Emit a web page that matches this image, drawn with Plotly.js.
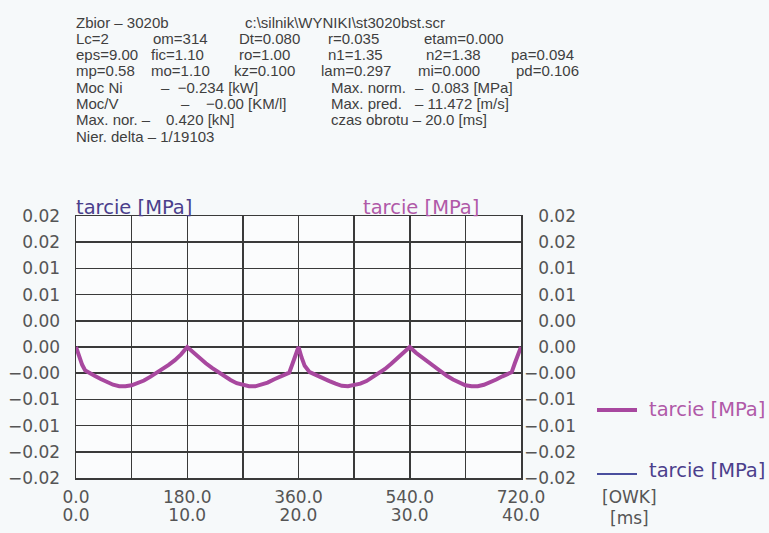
<!DOCTYPE html>
<html>
<head>
<meta charset="utf-8">
<script src="https://cdn.plot.ly/plotly-3.0.1.min.js"></script>
<style>
html,body{margin:0;padding:0;background:#f6f9fa;}
#chart{width:769px;height:533px;}
</style>
</head>
<body>
<div id="chart"></div>
<script>
// ---- data ----
const crankAngle = [0,5,10,15,20,30,40,50,60,70,80,90,100,110,120,130,140,150,160,170,180,
  190,200,210,220,230,240,250,260,270,280,290,300,310,320,330,340,345,350,355,360,
  365,370,378,390,400,410,420,430,440,450,460,470,480,490,500,510,520,530,540,
  550,560,570,580,590,600,610,620,630,640,650,660,670,680,690,700,705,710,715,720];
const tarcie = [0,-0.0018,-0.0034,-0.0045,-0.0049,-0.0055,-0.0061,-0.0067,-0.0072,-0.0075,-0.0075,-0.0073,-0.0069,-0.0064,-0.0057,-0.0050,-0.0042,-0.0034,-0.0025,-0.0014,0,
  -0.0011,-0.0022,-0.0031,-0.0040,-0.0048,-0.0056,-0.0063,-0.0069,-0.0073,-0.0075,-0.0075,-0.0072,-0.0068,-0.0062,-0.0056,-0.0051,-0.0049,-0.0033,-0.0016,0,
  -0.0020,-0.0036,-0.0048,-0.0055,-0.0060,-0.0065,-0.0070,-0.0074,-0.0075,-0.0073,-0.0070,-0.0065,-0.0058,-0.0050,-0.0042,-0.0032,-0.0021,-0.0011,0,
  -0.0011,-0.0020,-0.0030,-0.0039,-0.0047,-0.0055,-0.0062,-0.0068,-0.0073,-0.0075,-0.0075,-0.0072,-0.0068,-0.0062,-0.0056,-0.0051,-0.0048,-0.0031,-0.0015,0];

const xDegTickVals = [0,90,180,270,360,450,540,630,720];
const xDegTickText = ['0.0','','180.0','','360.0','','540.0','','720.0'];
const xMsTickVals = [0,10,20,30,40];
const xMsTickText = ['0.0','10.0','20.0','30.0','40.0'];
const yTickVals = [-0.025,-0.02,-0.015,-0.01,-0.005,0,0.005,0.01,0.015,0.02,0.025];
const yTickText = ['\u22120.02','\u22120.02','\u22120.01','\u22120.01','\u22120.00','0.00','0.00','0.01','0.01','0.02','0.02'];

const seriesName = 'tarcie [MPa]';
const unitDeg = '[OWK]';
const unitMs = '[ms]';

const headerRows = [
  ['Zbior \u2013 3020b', 'c:\\silnik\\WYNIKI\\st3020bst.scr'],
  ['Lc=2', 'om=314', 'Dt=0.080', 'r=0.035', 'etam=0.000'],
  ['eps=9.00', 'fic=1.10', 'ro=1.00', 'n1=1.35', 'n2=1.38', 'pa=0.094'],
  ['mp=0.58', 'mo=1.10', 'kz=0.100', 'lam=0.297', 'mi=0.000', 'pd=0.106'],
  ['Moc Ni', '\u2013  \u22120.234 [kW]', 'Max. norm.', '\u2013  0.083 [MPa]'],
  ['Moc/V', '\u2013', '\u22120.00 [KM/l]', 'Max. pred.', '\u2013 11.472 [m/s]'],
  ['Max. nor. \u2013', '0.420 [kN]', 'czas obrotu \u2013 20.0 [ms]'],
  ['Nier. delta \u2013 1/19103']
];

// ---- layout geometry (pixels) ----
const W = 769, H = 533;
const mL = 76, mR = 100, mT = 216, mB = 55;
const plotRight = 521;
const pw = W - mL - mR, ph = H - mT - mB;
const px = x => (x - mL) / pw;
const py = y => (H - mB - y) / ph;

const headerX = [
  [75, 244],
  [75, 152, 238, 327, 423],
  [75, 150, 238, 327, 425, 510],
  [75, 150, 233, 320, 417, 515],
  [75, 160, 330, 414],
  [75, 180, 205, 330, 414],
  [75, 165, 330],
  [75]
];
const headerY0 = 22, headerDy = 16.3;

const magenta = '#a8489f';
const magentaText = '#b05aa8';
const blue = '#4a4f9e';
const blueText = '#4b3f8c';
const gray = '#555555';
const gridCol = '#3a3a3a';
const FONT = 'DejaVu Sans, sans-serif';
const HFONT = 'Liberation Sans, Arial, sans-serif';

const annotations = [];
headerRows.forEach((row, i) => {
  row.forEach((t, j) => {
    annotations.push({xref:'paper', yref:'paper', x: px(headerX[i][j]), y: py(headerY0 + i*headerDy),
      xanchor:'left', yanchor:'middle', showarrow:false, text: t, borderpad:0,
      font:{family:HFONT, size:15, color:'#3f3f3f'}});
  });
});
// axis titles
annotations.push({xref:'paper', yref:'paper', x: px(74), y: py(207), xanchor:'left', yanchor:'middle',
  showarrow:false, text: seriesName, font:{family:FONT, size:19.5, color:blueText}});
annotations.push({xref:'paper', yref:'paper', x: px(361), y: py(207), xanchor:'left', yanchor:'middle',
  showarrow:false, text: seriesName, font:{family:FONT, size:19.5, color:magentaText}});
// legend texts
annotations.push({xref:'paper', yref:'paper', x: px(647), y: py(409), xanchor:'left', yanchor:'middle',
  showarrow:false, text: seriesName, font:{family:FONT, size:19.5, color:magentaText}});
annotations.push({xref:'paper', yref:'paper', x: px(647), y: py(470), xanchor:'left', yanchor:'middle',
  showarrow:false, text: seriesName, font:{family:FONT, size:19.5, color:blueText}});
// unit labels
annotations.push({xref:'paper', yref:'paper', x: px(629), y: py(497), xanchor:'center', yanchor:'middle',
  showarrow:false, text: unitDeg, font:{family:FONT, size:17, color:gray}});
annotations.push({xref:'paper', yref:'paper', x: px(629), y: py(518), xanchor:'center', yanchor:'middle',
  showarrow:false, text: unitMs, font:{family:FONT, size:17, color:gray}});

const shapes = [
  {type:'line', xref:'paper', yref:'paper', x0: px(597), x1: px(637), y0: py(410), y1: py(410),
   line:{color:magenta, width:4}},
  {type:'line', xref:'paper', yref:'paper', x0: px(597), x1: px(637), y0: py(474), y1: py(474),
   line:{color:blue, width:2}}
];

const traces = [
  {x: crankAngle, y: tarcie, xaxis:'x', yaxis:'y', type:'scatter', mode:'lines',
   name: seriesName, line:{color:blue, width:1.5}, showlegend:false, hoverinfo:'skip'},
  {x: crankAngle, y: tarcie, xaxis:'x', yaxis:'y2', type:'scatter', mode:'lines',
   name: seriesName, line:{color:magenta, width:4}, showlegend:false},
  // carrier for the time axis (no visible marks)
  {x: xMsTickVals, y: xMsTickVals.map(() => null), xaxis:'x2', yaxis:'y', type:'scatter',
   mode:'lines', showlegend:false, hoverinfo:'skip'}
];

const tickFont = {family:FONT, size:17, color:gray};
const yRange = [-0.025, 0.025];
const layout = {
  width: W, height: H,
  margin: {l:mL, r:mR, t:mT, b:mB, pad:0},
  paper_bgcolor:'#f6f9fa', plot_bgcolor:'#fbfcfd',
  showlegend:false,
  xaxis: {domain:[0, (plotRight - mL)/pw], range:[0,720], tickmode:'array',
    tickvals:xDegTickVals, ticktext:xDegTickText, showgrid:true, gridcolor:gridCol, gridwidth:1.5,
    showline:true, linecolor:gridCol, linewidth:1.5, mirror:true, zeroline:false, ticks:'',
    tickfont:tickFont, ticklabelstandoff:3, fixedrange:true},
  xaxis2: {overlaying:'x', anchor:'y', side:'bottom', range:[0,40], tickmode:'array',
    tickvals:xMsTickVals, ticktext:xMsTickText, showgrid:false, showline:false, zeroline:false,
    ticks:'', tickfont:tickFont, ticklabelstandoff:25},
  yaxis: {range:yRange, tickmode:'array', tickvals:yTickVals, ticktext:yTickText,
    showgrid:true, gridcolor:gridCol, gridwidth:1.5, showline:true, linecolor:gridCol, linewidth:1.5,
    mirror:true, zeroline:false, ticks:'', tickfont:tickFont, ticklabelstandoff:11},
  yaxis2: {overlaying:'y', anchor:'free', position: px(576), side:'left', range:yRange,
    tickmode:'array', tickvals:yTickVals, ticktext:yTickText, showgrid:false, showline:false,
    zeroline:false, ticks:'', tickfont:tickFont, ticklabelstandoff:0},
  annotations: annotations,
  shapes: shapes
};

Plotly.newPlot('chart', traces, layout, {displayModeBar:false, staticPlot:true});
</script>
</body>
</html>
